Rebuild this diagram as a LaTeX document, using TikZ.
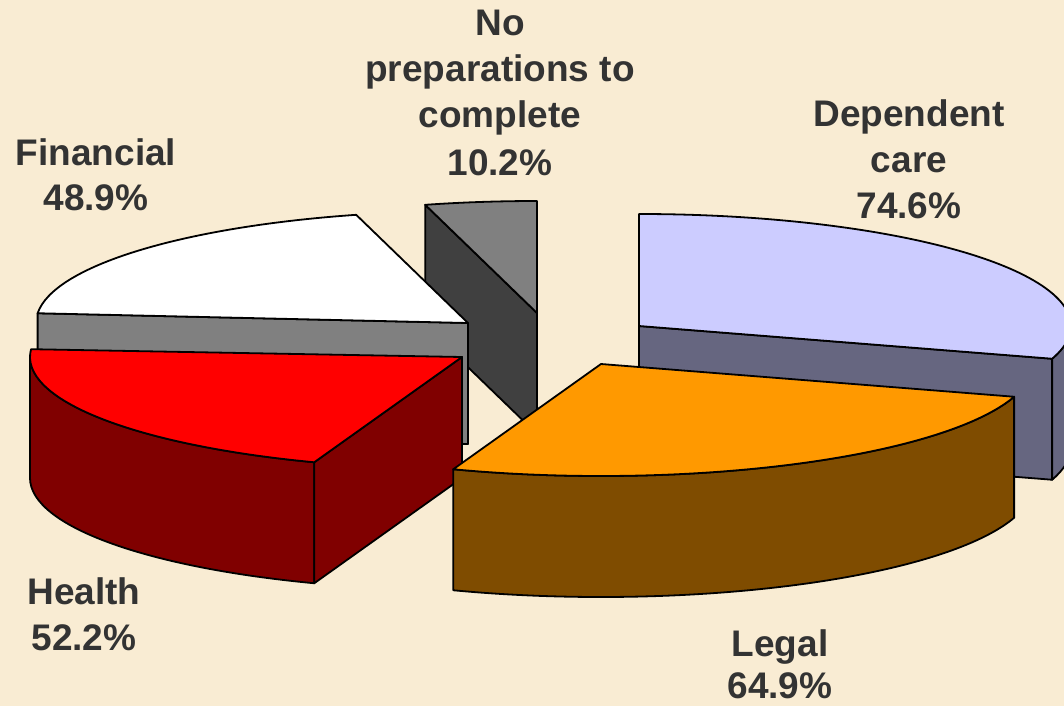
\documentclass[tikz,border=0pt]{standalone}
\usepackage{fontspec}
\setmainfont{Liberation Sans}
\usetikzlibrary{calc}
\definecolor{bgc}{HTML}{F9ECD3}
\definecolor{txtc}{HTML}{333333}
\definecolor{dctop}{HTML}{CCCCFF}
\definecolor{dcside}{HTML}{666680}
\definecolor{lgtop}{HTML}{FF9900}
\definecolor{lgside}{HTML}{7F4C00}
\definecolor{hetop}{HTML}{FF0000}
\definecolor{heside}{HTML}{800000}
\definecolor{fitop}{HTML}{FFFFFF}
\definecolor{fiside}{HTML}{808080}
\definecolor{nptop}{HTML}{808080}
\definecolor{npside}{HTML}{404040}
\begin{document}
\begin{tikzpicture}[x=1pt,y=-1pt,
  face/.style={draw=black, line width=1.8pt, line join=round},
  ell/.style={x radius=432, y radius=112},
  lbl/.style={font=\fontsize{37}{44}\selectfont\bfseries, text=txtc, anchor=base, inner sep=0pt}]
\fill[bgc] (0,0) rectangle (1064,706);
\useasboundingbox (0,0) rectangle (1064,706);
\begin{scope}
\clip (0,0) rectangle (1064,706);
\coordinate (N) at (537,313);
\coordinate (F) at (468,323);
\coordinate (D) at (639,326);
\coordinate (H) at (462,357);
\coordinate (L) at (601,364);
% No preparations slice
\filldraw[face, fill=npside] (N) -- ($(N)+(255:432 and 112)$) -- ++(0,121) -- ($(N)+(0,121)$) -- cycle;
\filldraw[face, fill=nptop] (N) -- ($(N)+(255:432 and 112)$) arc[start angle=255, end angle=270, ell] -- cycle;
% Financial slice
\filldraw[face, fill=fiside] (F) -- ($(F)+(185:432 and 112)$) -- ++(0,121) -- ($(F)+(0,121)$) -- cycle;
\filldraw[face, fill=fitop] (F) -- ($(F)+(185:432 and 112)$) arc[start angle=185, end angle=255, ell] -- cycle;
% Dependent care slice
\filldraw[face, fill=dcside] (D) -- ($(D)+(17:432 and 112)$) -- ++(0,121) -- ($(D)+(0,121)$) -- cycle;
\filldraw[face, fill=dcside] ($(D)+(0:432 and 112)$) arc[start angle=0, end angle=17, ell] -- ++(0,121) arc[start angle=17, end angle=0, ell] -- cycle;
\filldraw[face, fill=dctop] (D) -- ($(D)+(270:432 and 112)$) arc[start angle=270, end angle=377, ell] -- cycle;
% Health slice
\filldraw[face, fill=heside] ($(H)+(110:432 and 112)$) arc[start angle=110, end angle=180, ell] -- ++(0,121) arc[start angle=180, end angle=110, ell] -- cycle;
\filldraw[face, fill=heside] (H) -- ($(H)+(110:432 and 112)$) -- ++(0,121) -- ($(H)+(0,121)$) -- cycle;
\filldraw[face, fill=hetop] (H) -- ($(H)+(110:432 and 112)$) arc[start angle=110, end angle=184, ell] -- cycle;
% Legal slice
\filldraw[face, fill=lgside] ($(L)+(17:432 and 112)$) arc[start angle=17, end angle=110, ell] -- ++(0,121) arc[start angle=110, end angle=17, ell] -- cycle;
\filldraw[face, fill=lgtop] (L) -- ($(L)+(17:432 and 112)$) arc[start angle=17, end angle=110, ell] -- cycle;
\end{scope}
% Labels
\node[lbl] (np1) at (500,36) {No};
\node[lbl] (np2) at (500,82) {preparations to};
\node[lbl] (np3) at (500,128) {complete};
\node[lbl] (np4) at (500,175) {10.2\%};
\node[lbl] (fi1) at (96,165) {Financial};
\node[lbl] (fi2) at (96,210) {48.9\%};
\node[lbl] (dc1) at (909,126) {Dependent};
\node[lbl] (dc2) at (909,172) {care};
\node[lbl] (dc3) at (909,218) {74.6\%};
\node[lbl] (he1) at (84,604) {Health};
\node[lbl] (he2) at (84,650) {52.2\%};
\node[lbl] (lg1) at (780,656) {Legal};
\node[lbl] (lg2) at (780,698) {64.9\%};
\end{tikzpicture}
\end{document}
